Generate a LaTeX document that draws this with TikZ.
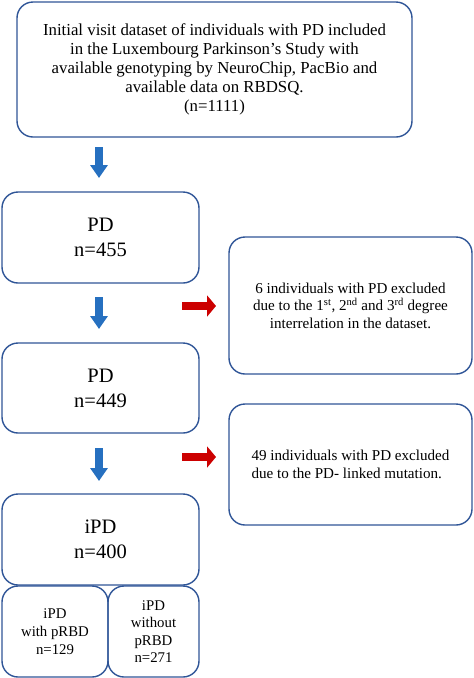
\documentclass[tikz,border=0pt]{standalone}
\usepackage{fontspec}
\setmainfont{Liberation Serif}
\usetikzlibrary{arrows.meta}
\definecolor{boxline}{RGB}{47,85,151}
\definecolor{arrblue}{RGB}{38,112,192}
\definecolor{arrred}{RGB}{204,0,0}
\newcommand{\bluearrow}[2]{\draw[bluearr] (#1) -- (#2);}
\newcommand{\redarrow}[2]{\draw[redarr] (#1) -- (#2);}
\tikzset{
  box/.style={draw=boxline, line width=1.4pt, rounded corners=16pt, align=center, inner sep=0pt},
  txtbig/.style={font=\fontsize{20.5}{25}\selectfont},
  txtmid/.style={font=\fontsize{16.8}{19}\selectfont},
  txtsmall/.style={font=\fontsize{15.1}{17.5}\selectfont},
  txttiny/.style={font=\fontsize{14.8}{18}\selectfont},
  bluearr/.style={arrblue, line width=8pt, -{Triangle[width=17pt,length=13pt]}},
  redarr/.style={arrred, line width=8pt, -{Triangle[width=21pt,length=9pt]}},
}
\begin{document}
\begin{tikzpicture}[x=1pt,y=-1pt]
    \useasboundingbox (0,0) rectangle (474,678);

    % left column
    \node[box, txtmid, minimum width=395pt, minimum height=135pt] (init) at (214.5,69.5)
        {Initial visit dataset of individuals with PD included\\
         in the Luxembourg Parkinson’s Study with\\
         available genotyping by NeuroChip, PacBio and\\
         available data on RBDSQ.\\
         (n=1111)};
    \node[box, txtbig, minimum width=197pt, minimum height=91pt] (pd455) at (100.5,237.5) {PD\\ n=455};
    \node[box, txtbig, minimum width=197pt, minimum height=90pt] (pd449) at (100.5,388) {PD\\ n=449};
    \node[box, txtbig, minimum width=197pt, minimum height=91pt] (ipd) at (100.5,539.5) {iPD\\ n=400};
    \node[box, txttiny, minimum width=106pt, minimum height=91pt] (withrbd) at (55,631.5)
        {iPD\\ with pRBD\\ n=129};
    \node[box, txttiny, font=\fontsize{14.8}{17.3}\selectfont, minimum width=91pt, minimum height=91pt] (norbd) at (153.5,631.5)
        {iPD\\ without\\ pRBD\\ n=271};

    % exclusions
    \node[box, txtsmall, minimum width=243pt, minimum height=137pt] (excl1) at (350.5,305.5)
        {6 individuals with PD excluded\\
         due to the 1\textsuperscript{st}, 2\textsuperscript{nd} and 3\textsuperscript{rd} degree\\
         interrelation in the dataset.};
    \node[box, txtsmall, minimum width=243pt, minimum height=121pt, align=left] (excl2) at (350.5,464.5)
        {49 individuals with PD excluded\\
         due to the PD- linked mutation.};

    % arrows
    \coordinate (b1) at (99,147);  \coordinate (e1) at (99,178);
    \coordinate (b2) at (99,297);  \coordinate (e2) at (99,329);
    \coordinate (b3) at (99,448);  \coordinate (e3) at (99,481);
    \coordinate (r1) at (182,306); \coordinate (s1) at (216,306);
    \coordinate (r2) at (182,457); \coordinate (s2) at (216,457);
    \bluearrow{b1}{e1}
    \bluearrow{b2}{e2}
    \bluearrow{b3}{e3}
    \redarrow{r1}{s1}
    \redarrow{r2}{s2}
\end{tikzpicture}
\end{document}
